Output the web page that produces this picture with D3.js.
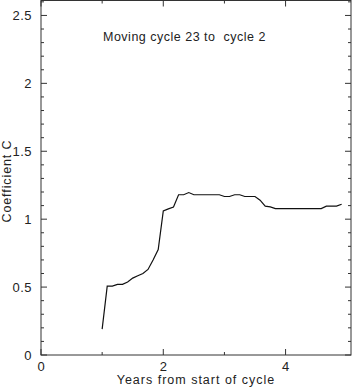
<!DOCTYPE html>
<html>
<head>
<meta charset="utf-8">
<script src="https://cdn.jsdelivr.net/npm/d3@7.9.0/dist/d3.min.js"></script>
<style>
  html, body { margin: 0; padding: 0; background: #fff; }
  svg { display: block; }
  text { font-family: "Liberation Sans", Arial, sans-serif; fill: #222; }
</style>
</head>
<body>
<svg id="chart" width="352" height="388"></svg>
<script>
// ========== Data ==========
const title = 'Moving cycle 23 to \u00a0cycle 2';
const xLabel = 'Years from start of cycle';
const yLabel = 'Coefficient C';

const years = [
  1.000, 1.083, 1.167, 1.250, 1.333, 1.417, 1.500, 1.583, 1.667, 1.750, 1.833, 1.917,
  2.000, 2.083, 2.167, 2.250, 2.333, 2.417, 2.500, 2.583, 2.667, 2.750, 2.833, 2.917,
  3.000, 3.083, 3.167, 3.250, 3.333, 3.417, 3.500, 3.583, 3.667, 3.750, 3.833, 3.917,
  4.000, 4.083, 4.167, 4.250, 4.333, 4.417, 4.500, 4.583, 4.667, 4.750, 4.833, 4.917
];
const coeff = [
  0.19, 0.507, 0.507, 0.52, 0.52, 0.537, 0.566, 0.583, 0.60, 0.63, 0.70, 0.777,
  1.06, 1.076, 1.09, 1.18, 1.18, 1.196, 1.18, 1.18, 1.18, 1.18, 1.18, 1.18,
  1.167, 1.167, 1.18, 1.18, 1.167, 1.167, 1.167, 1.14, 1.096, 1.09, 1.078, 1.078,
  1.078, 1.078, 1.078, 1.078, 1.078, 1.078, 1.078, 1.078, 1.096, 1.096, 1.096, 1.11
];

const xMajor = [0, 2, 4];
const xMinor = [1, 3];
const yMajor = [0, 0.5, 1, 1.5, 2, 2.5];
const yMinor = [0.1, 0.2, 0.3, 0.4, 0.6, 0.7, 0.8, 0.9, 1.1, 1.2, 1.3, 1.4,
                1.6, 1.7, 1.8, 1.9, 2.1, 2.2, 2.3, 2.4, 2.6];

// ========== Layout ==========
const pLeft = 41, pRight = 351, pTop = 0.5, pBottom = 355;
const x = d3.scaleLinear().domain([0, 5.07]).range([pLeft, pRight]);
const y = d3.scaleLinear().domain([0, 2.61]).range([pBottom, pTop]);

const svg = d3.select('#chart');
const axisColor = '#333';

// === Frame ===
svg.append('rect')
  .attr('x', pLeft).attr('y', pTop)
  .attr('width', pRight - pLeft).attr('height', pBottom - pTop)
  .attr('fill', 'none').attr('stroke', axisColor).attr('stroke-width', 1);

// === Ticks (inside, all four sides) ===
function xTicks(vals, len) {
  vals.forEach((v) => {
    svg.append('line').attr('x1', x(v)).attr('x2', x(v))
      .attr('y1', pBottom).attr('y2', pBottom - len).attr('stroke', axisColor);
    svg.append('line').attr('x1', x(v)).attr('x2', x(v))
      .attr('y1', pTop).attr('y2', pTop + len).attr('stroke', axisColor);
  });
}
function yTicks(vals, len) {
  vals.forEach((v) => {
    svg.append('line').attr('y1', y(v)).attr('y2', y(v))
      .attr('x1', pLeft).attr('x2', pLeft + len).attr('stroke', axisColor);
    svg.append('line').attr('y1', y(v)).attr('y2', y(v))
      .attr('x1', pRight).attr('x2', pRight - len).attr('stroke', axisColor);
  });
}
xTicks(xMajor, 6);
xTicks(xMinor, 3);
yTicks(yMajor, 6);
yTicks(yMinor, 3);

// === Tick labels ===
svg.selectAll('.xl').data(xMajor).enter().append('text')
  .attr('x', (d) => x(d)).attr('y', 371)
  .attr('text-anchor', 'middle').attr('font-size', 13)
  .text((d) => d);

svg.selectAll('.yl').data(yMajor).enter().append('text')
  .attr('x', 32).attr('y', (d) => y(d) + 4.5)
  .attr('text-anchor', 'end').attr('font-size', 13)
  .attr('letter-spacing', 0.5)
  .text((d) => d);

// === Axis titles ===
svg.append('text')
  .attr('x', 196).attr('y', 384)
  .attr('text-anchor', 'middle').attr('font-size', 12.5)
  .attr('letter-spacing', 1)
  .text(xLabel);

svg.append('text')
  .attr('transform', 'translate(11,181) rotate(-90)')
  .attr('text-anchor', 'middle').attr('font-size', 12.5)
  .attr('letter-spacing', 0.9)
  .text(yLabel);

// === Title ===
svg.append('text')
  .attr('x', 103).attr('y', 41)
  .attr('font-size', 12.5)
  .attr('letter-spacing', 0.5)
  .text(title);

// === Line ===
const line = d3.line().x((d) => x(d[0])).y((d) => y(d[1]));
svg.append('path')
  .datum(d3.zip(years, coeff))
  .attr('d', line)
  .attr('fill', 'none')
  .attr('stroke', '#111')
  .attr('stroke-width', 1.2);
</script>
</body>
</html>
